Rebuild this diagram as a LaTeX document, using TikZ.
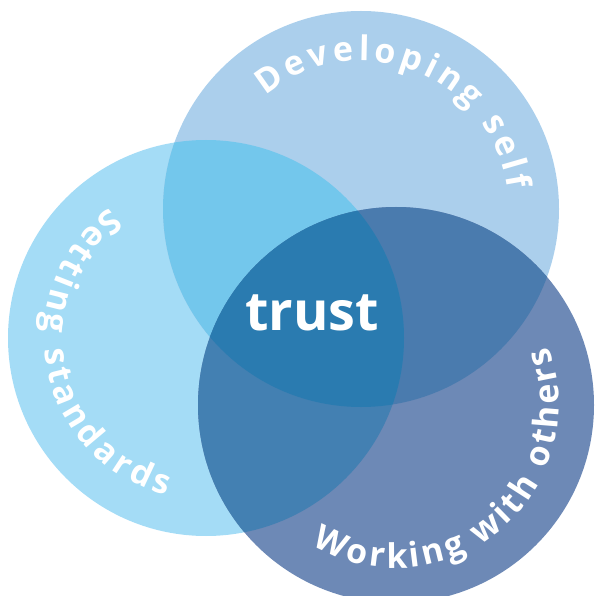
\documentclass[tikz,border=0pt]{standalone}
\usepackage{fontspec}
\setmainfont{Open Sans}
\usetikzlibrary{decorations.text}

% region colours of the three-set diagram
\definecolor{devC}{HTML}{ABCFEC}
\definecolor{setC}{HTML}{A4DCF6}
\definecolor{workC}{HTML}{6D89B6}
\definecolor{devsetC}{HTML}{73C7EC}
\definecolor{devworkC}{HTML}{4A7BAE}
\definecolor{setworkC}{HTML}{4380B2}
\definecolor{coreC}{HTML}{2A7BB0}

\newcommand\lblfont{\fontsize{34}{34}\selectfont\bfseries}

\tikzset{
  arclabel/.style={decorate, decoration={text along path, text={|\lblfont|#1},
      text color=white, text align=fit to path}},
}

\begin{document}
\begin{tikzpicture}[x=1pt,y=1pt]
\useasboundingbox (0,0) rectangle (597,595);
\clip (0,0) rectangle (597,595);

\coordinate (dev)  at (361,386);
\coordinate (set)  at (206,257);
\coordinate (work) at (396,190);
\def\R{198pt}

% single-set areas
\fill[setC]  (set)  circle[radius=\R];
\fill[devC]  (dev)  circle[radius=\R];
\fill[workC] (work) circle[radius=\R];

% pairwise overlaps
\begin{scope}
  \clip (dev) circle[radius=\R];
  \fill[devsetC] (set) circle[radius=\R];
  \fill[devworkC] (work) circle[radius=\R];
\end{scope}
\begin{scope}
  \clip (set) circle[radius=\R];
  \fill[setworkC] (work) circle[radius=\R];
\end{scope}

% common core
\begin{scope}
  \clip (dev) circle[radius=\R];
  \clip (set) circle[radius=\R];
  \fill[coreC] (work) circle[radius=\R];
\end{scope}

% curved labels
\path[arclabel={Developing self}]
  (dev) ++(130:148pt) arc[start angle=130, end angle=7.5, radius=148pt];
\path[arclabel={Setting standards}]
  (set) ++(126.5:162pt) arc[start angle=126.5, end angle=256, radius=162pt];
\path[arclabel={Working with others}]
  (work) ++(239:163pt) arc[start angle=239, end angle=381, radius=163pt];

\node[text=white, font=\fontsize{54}{54}\selectfont\bfseries] (trust) at (312,282) {trust};
\end{tikzpicture}
\end{document}
